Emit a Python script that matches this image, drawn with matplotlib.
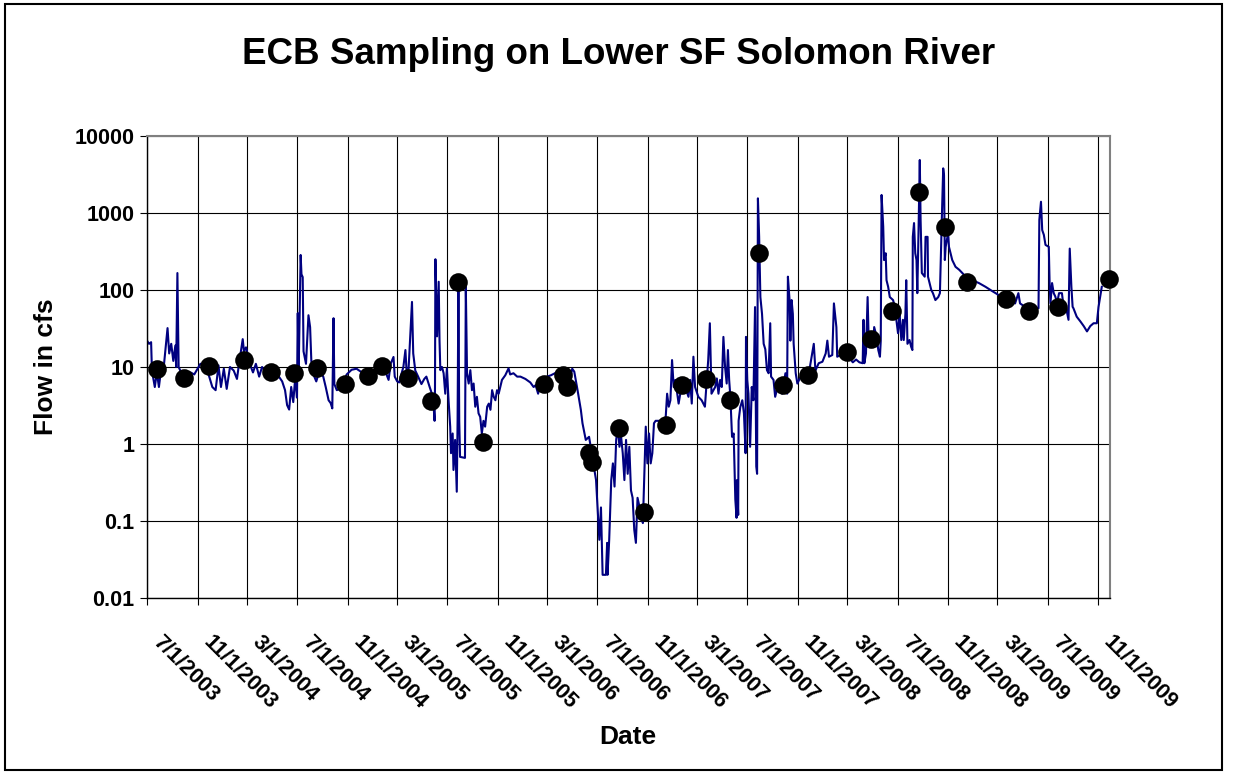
import matplotlib
matplotlib.use("Agg")
import matplotlib.pyplot as plt
from matplotlib.transforms import ScaledTranslation
from matplotlib.patches import Rectangle
import pandas as pd

plt.rcParams['font.family'] = ['Liberation Sans', 'DejaVu Sans']

# daily flow trace
flow_dates = [
    "2003-07-01", "2003-07-06", "2003-07-11", "2003-07-13", "2003-07-20", "2003-07-25", "2003-07-30",
    "2003-08-04", "2003-08-09", "2003-08-14", "2003-08-20", "2003-08-24", "2003-08-29", "2003-09-03",
    "2003-09-08", "2003-09-10", "2003-09-13", "2003-09-16", "2003-09-20", "2003-10-02", "2003-10-15",
    "2003-10-24", "2003-11-01", "2003-11-08", "2003-11-18", "2003-11-25", "2003-12-07", "2003-12-15",
    "2003-12-22", "2003-12-28", "2004-01-04", "2004-01-11", "2004-01-19", "2004-01-28", "2004-02-05",
    "2004-02-10", "2004-02-19", "2004-02-22", "2004-02-27", "2004-03-03", "2004-03-10", "2004-03-15",
    "2004-03-22", "2004-03-30", "2004-04-06", "2004-04-16", "2004-04-28", "2004-05-10", "2004-05-17",
    "2004-05-25", "2004-06-01", "2004-06-06", "2004-06-11", "2004-06-16", "2004-06-21", "2004-06-26",
    "2004-06-30", "2004-07-02", "2004-07-04", "2004-07-09", "2004-07-11", "2004-07-14", "2004-07-16",
    "2004-07-22", "2004-07-28", "2004-08-01", "2004-08-04", "2004-08-09", "2004-08-16", "2004-08-24",
    "2004-09-02", "2004-09-08", "2004-09-15", "2004-09-20", "2004-09-24", "2004-09-27", "2004-09-29",
    "2004-10-05", "2004-10-12", "2004-10-22", "2004-10-29", "2004-11-10", "2004-11-22", "2004-12-05",
    "2004-12-17", "2004-12-29", "2005-01-05", "2005-01-13", "2005-01-22", "2005-01-27", "2005-02-03",
    "2005-02-08", "2005-02-13", "2005-02-20", "2005-02-23", "2005-03-01", "2005-03-06", "2005-03-11",
    "2005-03-16", "2005-03-21", "2005-03-24", "2005-03-28", "2005-04-06", "2005-04-09", "2005-04-14",
    "2005-04-21", "2005-04-29", "2005-05-06", "2005-05-11", "2005-05-19", "2005-05-27", "2005-05-31",
    "2005-06-01", "2005-06-02", "2005-06-06", "2005-06-10", "2005-06-12", "2005-06-14", "2005-06-18",
    "2005-06-22", "2005-06-26", "2005-06-30", "2005-07-04", "2005-07-08", "2005-07-10", "2005-07-14",
    "2005-07-16", "2005-07-20", "2005-07-24", "2005-07-26", "2005-07-28", "2005-07-30", "2005-08-01",
    "2005-08-13", "2005-08-15", "2005-08-18", "2005-08-22", "2005-08-26", "2005-08-30", "2005-09-03",
    "2005-09-07", "2005-09-11", "2005-09-15", "2005-09-19", "2005-09-23", "2005-09-27", "2005-10-01",
    "2005-10-06", "2005-10-10", "2005-10-14", "2005-10-18", "2005-10-22", "2005-10-26", "2005-10-30",
    "2005-11-03", "2005-11-11", "2005-11-19", "2005-11-27", "2005-12-01", "2005-12-09", "2005-12-18",
    "2005-12-26", "2006-01-07", "2006-01-19", "2006-01-27", "2006-02-01", "2006-02-07", "2006-02-12",
    "2006-02-20", "2006-03-01", "2006-03-10", "2006-03-20", "2006-03-31", "2006-04-06", "2006-04-12",
    "2006-04-19", "2006-04-26", "2006-05-01", "2006-05-06", "2006-05-14", "2006-05-22", "2006-05-26",
    "2006-06-03", "2006-06-11", "2006-06-15", "2006-06-20", "2006-06-28", "2006-07-02", "2006-07-06",
    "2006-07-10", "2006-07-14", "2006-07-20", "2006-07-22", "2006-07-25", "2006-07-26", "2006-07-30",
    "2006-08-04", "2006-08-08", "2006-08-12", "2006-08-16", "2006-08-20", "2006-08-24", "2006-08-28",
    "2006-09-01", "2006-09-05", "2006-09-09", "2006-09-13", "2006-09-17", "2006-09-21", "2006-09-25",
    "2006-09-29", "2006-10-03", "2006-10-07", "2006-10-16", "2006-10-20", "2006-10-27", "2006-10-31",
    "2006-11-04", "2006-11-08", "2006-11-12", "2006-11-16", "2006-11-20", "2006-11-28", "2006-12-14",
    "2006-12-18", "2006-12-22", "2006-12-26", "2006-12-30", "2007-01-03", "2007-01-07", "2007-01-15",
    "2007-01-19", "2007-01-23", "2007-01-31", "2007-02-08", "2007-02-12", "2007-02-16", "2007-02-20",
    "2007-02-24", "2007-03-04", "2007-03-12", "2007-03-20", "2007-03-28", "2007-04-01", "2007-04-04",
    "2007-04-05", "2007-04-14", "2007-04-18", "2007-04-22", "2007-04-26", "2007-04-30", "2007-05-04",
    "2007-05-08", "2007-05-12", "2007-05-15", "2007-05-18", "2007-05-21", "2007-05-25", "2007-05-29",
    "2007-05-31", "2007-06-02", "2007-06-05", "2007-06-06", "2007-06-09", "2007-06-10", "2007-06-14",
    "2007-06-19", "2007-06-23", "2007-06-27", "2007-06-28", "2007-07-01", "2007-07-04", "2007-07-08",
    "2007-07-12", "2007-07-16", "2007-07-20", "2007-07-23", "2007-07-25", "2007-07-27", "2007-07-30",
    "2007-08-02", "2007-08-06", "2007-08-10", "2007-08-14", "2007-08-18", "2007-08-22", "2007-08-26",
    "2007-08-28", "2007-09-03", "2007-09-07", "2007-09-15", "2007-09-24", "2007-10-02", "2007-10-06",
    "2007-10-08", "2007-10-12", "2007-10-14", "2007-10-17", "2007-10-20", "2007-10-22", "2007-10-27",
    "2007-10-31", "2007-11-08", "2007-11-16", "2007-11-28", "2007-12-10", "2007-12-14", "2007-12-22",
    "2007-12-31", "2008-01-08", "2008-01-12", "2008-01-16", "2008-01-24", "2008-01-28", "2008-02-03",
    "2008-02-05", "2008-02-13", "2008-02-26", "2008-03-06", "2008-03-14", "2008-03-22", "2008-03-30",
    "2008-04-07", "2008-04-09", "2008-04-11", "2008-04-15", "2008-04-19", "2008-04-22", "2008-04-27",
    "2008-05-03", "2008-05-05", "2008-05-11", "2008-05-15", "2008-05-19", "2008-05-21", "2008-05-23",
    "2008-05-27", "2008-05-29", "2008-06-02", "2008-06-04", "2008-06-08", "2008-06-12", "2008-06-20",
    "2008-06-24", "2008-06-28", "2008-07-02", "2008-07-06", "2008-07-10", "2008-07-14", "2008-07-16",
    "2008-07-20", "2008-07-22", "2008-07-25", "2008-07-30", "2008-08-03", "2008-08-06", "2008-08-07",
    "2008-08-10", "2008-08-13", "2008-08-16", "2008-08-18", "2008-08-21", "2008-08-24", "2008-08-26",
    "2008-08-29", "2008-09-05", "2008-09-07", "2008-09-12", "2008-09-13", "2008-09-21", "2008-09-25",
    "2008-10-01", "2008-10-08", "2008-10-12", "2008-10-14", "2008-10-17", "2008-10-20", "2008-10-22",
    "2008-10-24", "2008-10-26", "2008-11-01", "2008-11-03", "2008-11-07", "2008-11-11", "2008-11-19",
    "2008-11-28", "2008-12-14", "2008-12-30", "2009-01-15", "2009-01-31", "2009-02-16", "2009-03-04",
    "2009-03-20", "2009-04-05", "2009-04-13", "2009-04-21", "2009-04-25", "2009-05-07", "2009-05-23",
    "2009-06-09", "2009-06-11", "2009-06-15", "2009-06-18", "2009-06-22", "2009-06-26", "2009-07-04",
    "2009-07-06", "2009-07-08", "2009-07-12", "2009-07-16", "2009-07-20", "2009-07-24", "2009-07-29",
    "2009-08-05", "2009-08-09", "2009-08-13", "2009-08-21", "2009-08-24", "2009-08-28", "2009-08-31",
    "2009-09-02", "2009-09-10", "2009-09-19", "2009-09-27", "2009-10-05", "2009-10-13", "2009-10-21",
    "2009-10-29", "2009-11-02", "2009-11-06", "2009-11-10",
]
flow_cfs = [
    22, 20, 21, 9, 5.5, 8.5, 5.5,
    9, 8, 15, 32, 15, 20, 12,
    19, 10, 166, 10, 9, 8, 8.5,
    8, 9.5, 11, 11, 9, 5.5, 5.0,
    10.5, 5.5, 9.5, 5.2, 10, 9, 7,
    11, 23, 16, 18, 14, 10, 8.5,
    11, 7.5, 10, 8.5, 8, 8.5, 7.5,
    6.5, 5, 3.2, 2.8, 5.5, 3.5, 7.5,
    4, 50, 8, 285, 160, 147, 16,
    11, 47, 33, 12, 8, 6.5, 9,
    7.5, 5.5, 3.7, 3.4, 2.9, 43, 6,
    5, 5.2, 6.5, 8, 9.2, 9.5, 8.5,
    9.0, 8.5, 9, 10.5, 9, 11, 8,
    6.8, 11, 13.5, 7.5, 6.5, 6.3, 8,
    10, 16.6, 8.5, 8, 70, 15, 9,
    7.5, 6, 7, 7.5, 5.5, 4.1, 2.0,
    5.5, 251, 25, 128, 22, 9.1, 10,
    8.3, 4.5, 9.6, 3.7, 1.68, 0.76, 1.37,
    0.46, 1.13, 0.24, 2.0, 123, 2.0, 0.68,
    0.66, 110, 8.3, 6.1, 9.1, 5.0, 6.1,
    3.05, 4.1, 2.5, 2.25, 1.37, 2.0, 1.68,
    3.05, 3.35, 2.78, 5.0, 4.1, 3.7, 5.0,
    4.5, 6.8, 7.8, 9.6, 8.0, 8.3, 7.5,
    7.5, 7.0, 6.3, 5.5, 5.8, 4.5, 6.8,
    6.8, 7.5, 7.8, 8.3, 9.1, 7.0, 8.5,
    8.3, 7, 9.5, 8.7, 5.0, 2.78, 1.86,
    1.13, 1.24, 0.92, 0.62, 0.34, 0.14, 0.057,
    0.15, 0.02, 0.02, 0.02, 0.052, 0.02, 0.057,
    0.34, 0.56, 0.28, 1.13, 1.68, 0.92, 1.24,
    0.76, 0.34, 1.13, 0.41, 0.92, 0.25, 0.2,
    0.077, 0.052, 0.2, 0.12, 0.094, 1.68, 0.56,
    1.37, 0.56, 0.76, 1.86, 2.0, 2.0, 2.0,
    4.5, 3.05, 3.7, 12.3, 5.5, 6.8, 3.35,
    4.5, 5.0, 5.5, 4.1, 6.8, 3.35, 13.6,
    5.5, 4.1, 3.7, 3.05, 12.3, 37, 6.8,
    4.5, 5.5, 7.1, 4.5, 6.8, 5.5, 24.6,
    10.1, 6.1, 16.6, 6.8, 4.1, 1.24, 1.37,
    0.5, 0.19, 0.11, 0.34, 0.12, 2.0, 3.0,
    3.7, 2.5, 0.76, 24.6, 6.8, 4.5, 0.92,
    5.5, 3.7, 60, 0.51, 0.41, 1550, 490,
    81, 49, 20, 17, 9.1, 8.3, 37,
    7.5, 6.8, 4.1, 6.1, 4.5, 8.3, 4.5,
    149, 74, 22, 74, 49, 20, 8.3,
    6.1, 7.5, 8.3, 8.3, 20, 9, 11.2,
    11.7, 15, 22, 13.6, 14.3, 67, 33,
    13.6, 14.3, 15, 13, 11.5, 12.5, 11.5,
    11.2, 41, 11.2, 15, 81, 18.3, 20,
    20, 33, 24.6, 16.6, 13.6, 22, 1715,
    665, 245, 300, 134, 110, 81, 74,
    61, 41, 27.5, 49, 22.4, 41, 22.4,
    49, 134, 20, 22.4, 18.3, 16.6, 490,
    740, 300, 245, 91, 603, 4880, 813,
    166, 149, 490, 490, 149, 100, 91,
    74, 81, 91, 245, 990, 3800, 3100,
    245, 364, 550, 364, 300, 245, 200,
    183, 149, 134, 123, 110, 97, 86,
    78, 72, 67, 91, 67, 60.5, 58,
    58, 813, 1400, 600, 520, 385, 364,
    123, 67, 123, 91, 82, 67, 91,
    91, 60.5, 67, 41, 345, 110, 60.5,
    58, 45, 39, 34, 29, 34, 37,
    37, 60, 82, 110,
]

# ECB sampling events
sample_dates = [
    "2003-07-26", "2003-09-29", "2003-11-30", "2004-02-23", "2004-04-28", "2004-06-24",
    "2004-08-18", "2004-10-25", "2004-12-20", "2005-01-23", "2005-03-27", "2005-05-22",
    "2005-07-26", "2005-09-25", "2006-02-21", "2006-04-08", "2006-04-19", "2006-06-10",
    "2006-06-18", "2006-08-22", "2006-10-22", "2006-12-16", "2007-01-24", "2007-03-22",
    "2007-05-21", "2007-07-30", "2007-09-27", "2007-11-27", "2008-02-28", "2008-04-28",
    "2008-06-18", "2008-08-22", "2008-10-25", "2008-12-16", "2009-03-22", "2009-05-16",
    "2009-07-26", "2009-11-28",
]
sample_cfs = [
    9.3, 7.3, 10.3, 12.3, 8.7, 8.3,
    9.8, 6.1, 7.7, 10.3, 7.3, 3.65,
    126, 1.05, 6.1, 7.9, 5.55, 0.76,
    0.59, 1.6, 0.13, 1.75, 5.8, 6.9,
    3.7, 300, 5.8, 7.9, 15.5, 22.9,
    54, 1858, 663, 126, 76, 54,
    61, 141,
]

tick_dates = [
    "2003-07-01", "2003-11-01", "2004-03-01", "2004-07-01", "2004-11-01", "2005-03-01",
    "2005-07-01", "2005-11-01", "2006-03-01", "2006-07-01", "2006-11-01", "2007-03-01",
    "2007-07-01", "2007-11-01", "2008-03-01", "2008-07-01", "2008-11-01", "2009-03-01",
    "2009-07-01", "2009-11-01",
]
tick_labels = [
    "7/1/2003", "11/1/2003", "3/1/2004", "7/1/2004", "11/1/2004", "3/1/2005",
    "7/1/2005", "11/1/2005", "3/1/2006", "7/1/2006", "11/1/2006", "3/1/2007",
    "7/1/2007", "11/1/2007", "3/1/2008", "7/1/2008", "11/1/2008", "3/1/2009",
    "7/1/2009", "11/1/2009",
]
y_ticks = [0.01, 0.1, 1, 10, 100, 1000, 10000]
y_tick_labels = ["0.01", "0.1", "1", "10", "100", "1000", "10000"]

W, H = 1233, 774
fig = plt.figure(figsize=(W / 100, H / 100), dpi=100)
ax = fig.add_axes([147 / W, 1 - 598 / H, (1110 - 147) / W, (598 - 136) / H])

ax.plot(pd.to_datetime(flow_dates), flow_cfs, color='#000080', lw=1.5, zorder=2)
ax.scatter(pd.to_datetime(sample_dates), sample_cfs, s=180, color='black',
           zorder=3, clip_on=False, linewidths=0)

ax.set_yscale('log')
ax.set_ylim(0.01, 10000)
ax.set_yticks(y_ticks)
ax.set_yticklabels(y_tick_labels)
ax.minorticks_off()
ax.set_xlim(pd.Timestamp("2003-07-01"), pd.Timestamp("2009-11-30"))
ax.set_xticks(pd.to_datetime(tick_dates))
ax.set_xticklabels(tick_labels, rotation=-45, ha='left', va='top',
                   rotation_mode='anchor')

ax.grid(True, color='black', lw=0.8)
ax.set_axisbelow(True)
ax.tick_params(axis='both', labelsize=15.5, width=0.8, length=5, color='black')
ax.tick_params(axis='y', pad=4)
ax.tick_params(axis='x', pad=19)
for lab in ax.get_xticklabels() + ax.get_yticklabels():
    lab.set_fontweight('bold')
offset = ScaledTranslation(0.16, 0, fig.dpi_scale_trans)
for lab in ax.get_xticklabels():
    lab.set_transform(lab.get_transform() + offset)

for side in ['left', 'bottom']:
    ax.spines[side].set_color('black')
    ax.spines[side].set_linewidth(1.0)
for side in ['top', 'right']:
    ax.spines[side].set_color('#808080')
    ax.spines[side].set_linewidth(1.5)

fig.text(619 / W, 1 - 55 / H, "ECB Sampling on Lower SF Solomon River",
         ha='center', va='center', fontsize=26.5, fontweight='bold')
fig.text(46 / W, 1 - 367 / H, "Flow in cfs", rotation=90,
         ha='center', va='center', fontsize=19, fontweight='bold')
fig.text(628 / W, 1 - 737 / H, "Date",
         ha='center', va='center', fontsize=19, fontweight='bold')

fig.patches.append(Rectangle((5 / W, 4 / H), (1222 - 5) / W, (770 - 4) / H,
                             transform=fig.transFigure, fill=False,
                             edgecolor='black', lw=1.5))

fig.savefig("out.png", dpi=100)
